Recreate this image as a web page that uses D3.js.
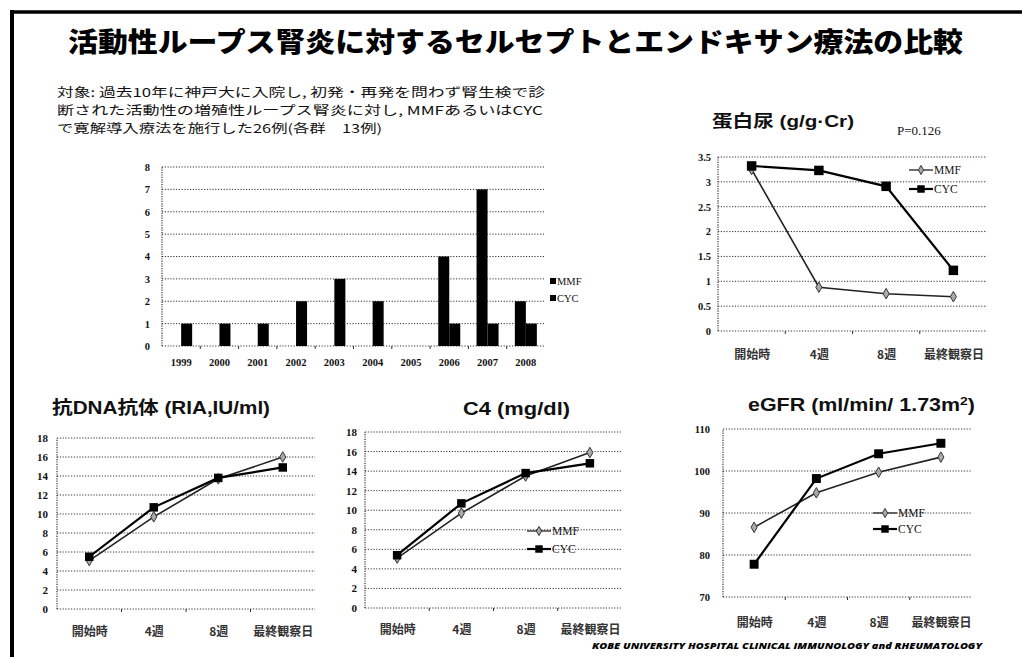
<!DOCTYPE html>
<html>
<head>
<meta charset="utf-8">
<script src="https://cdn.jsdelivr.net/npm/d3@7"></script>
<style>
  html, body { margin: 0; padding: 0; background: #fff; }
  svg { display: block; }
</style>
</head>
<body>
<svg id="slide" width="1022" height="657"></svg>
<script>
// ---- data ----
const years = ["1999", "2000", "2001", "2002", "2003", "2004", "2005", "2006", "2007", "2008"];
const mmfCases = [0, 0, 0, 0, 0, 0, 0, 4, 7, 2];
const cycCases = [1, 1, 1, 2, 3, 2, 0, 1, 1, 1];
const caseTicks = [0, 1, 2, 3, 4, 5, 6, 7, 8];

const timepoints = ["開始時", "4週", "8週", "最終観察日"];

const proteinMMF = [3.25, 0.88, 0.75, 0.69];
const proteinCYC = [3.32, 3.23, 2.91, 1.22];
const proteinTicks = [0, 0.5, 1, 1.5, 2, 2.5, 3, 3.5];

const dnaMMF = [5.1, 9.7, 13.7, 16.0];
const dnaCYC = [5.5, 10.7, 13.8, 14.9];
const dnaTicks = [0, 2, 4, 6, 8, 10, 12, 14, 16, 18];

const c4MMF = [5.1, 9.7, 13.5, 15.9];
const c4CYC = [5.4, 10.7, 13.8, 14.8];
const c4Ticks = [0, 2, 4, 6, 8, 10, 12, 14, 16, 18];

const egfrMMF = [86.6, 94.8, 99.7, 103.3];
const egfrCYC = [77.8, 98.2, 104.1, 106.6];
const egfrTicks = [70, 80, 90, 100, 110];

const seriesNames = ["MMF", "CYC"];

// ---- styles ----
const JP = "'Noto Sans CJK JP', 'Noto Sans', sans-serif";
const HEAD = "'Liberation Sans', 'Noto Sans CJK JP', sans-serif";
const SERIF = "'Liberation Serif', 'DejaVu Serif', serif";
const GRID = "#333";

const svg = d3.select("#slide");

// slide frame (top and left rule)
svg.append("line").attr("x1", 11).attr("x2", 1022).attr("y1", 12).attr("y2", 12)
  .attr("stroke", "#000").attr("stroke-width", 3.5);
svg.append("line").attr("x1", 12).attr("x2", 12).attr("y1", 10).attr("y2", 657)
  .attr("stroke", "#000").attr("stroke-width", 4);

// slide title
svg.append("text")
  .attr("x", 68).attr("y", 52)
  .attr("font-family", JP).attr("font-weight", 900).attr("font-size", 27)
  .attr("textLength", 895).attr("lengthAdjust", "spacingAndGlyphs")
  .text("活動性ループス腎炎に対するセルセプトとエンドキサン療法の比較");

// description paragraph, one text element with a tspan per line
const desc = [
  { t: "対象: 過去10年に神戸大に入院し, 初発・再発を問わず腎生検で診", y: 97, w: 488 },
  { t: "断された活動性の増殖性ループス腎炎に対し, MMFあるいはCYC", y: 115, w: 486 },
  { t: "で寛解導入療法を施行した26例(各群　13例)", y: 133, w: 325 }
];
svg.append("text")
  .attr("font-family", JP).attr("font-size", 12.3).attr("fill", "#111")
  .selectAll("tspan").data(desc).join("tspan")
  .attr("x", 57).attr("y", d => d.y)
  .attr("textLength", d => d.w).attr("lengthAdjust", "spacingAndGlyphs")
  .text(d => d.t);

// footer
svg.append("text")
  .attr("x", 592).attr("y", 649)
  .attr("font-family", "'Open Sans', 'Liberation Sans', sans-serif")
  .attr("font-weight", 800).attr("font-style", "italic").attr("font-size", 9.5)
  .attr("textLength", 390).attr("lengthAdjust", "spacingAndGlyphs")
  .text("KOBE UNIVERSITY HOSPITAL CLINICAL IMMUNOLOGY and RHEUMATOLOGY");

// dotted gridlines and axis frame shared by all panels
function drawGrid(g, y, ticks, x0, x1, labelGap, fmt, fontSize) {
  g.append("g").selectAll("line").data(ticks).join("line")
    .attr("x1", x0).attr("x2", x1)
    .attr("y1", d => y(d)).attr("y2", d => y(d))
    .attr("stroke", GRID).attr("stroke-width", 1).attr("stroke-dasharray", "1.2,1.6");
  g.append("line")
    .attr("x1", x0).attr("x2", x0)
    .attr("y1", y(ticks[0])).attr("y2", y(ticks[ticks.length - 1]))
    .attr("stroke", GRID).attr("stroke-width", 1.2).attr("stroke-dasharray", "1.2,1.2");
  const axis = d3.axisLeft(y).tickValues(ticks).tickSize(0).tickPadding(labelGap).tickFormat(fmt);
  const ag = g.append("g").attr("transform", `translate(${x0},0)`).call(axis);
  ag.select(".domain").remove();
  ag.selectAll("text")
    .attr("font-family", SERIF).attr("font-weight", "bold")
    .attr("font-size", fontSize).attr("fill", "#111");
}

// ---- bar chart: cases per year ----
(function () {
  const g = svg.append("g");
  const x = d3.scaleBand().domain(years).range([162, 545]);
  const y = d3.scaleLinear().domain([0, 8]).range([346, 167]);
  const inner = d3.scaleBand().domain(seriesNames)
    .range([x.bandwidth() / 2 - 11, x.bandwidth() / 2 + 11]);
  drawGrid(g, y, caseTicks, 162, 545, 12, d3.format("d"), 10.5);

  // small marks at category boundaries
  g.append("g").selectAll("line").data(years.slice(1)).join("line")
    .attr("x1", d => x(d)).attr("x2", d => x(d))
    .attr("y1", y(0)).attr("y2", y(0) + 3)
    .attr("stroke", GRID).attr("stroke-width", 1);

  const rows = years.map((yr, i) => ({ yr, MMF: mmfCases[i], CYC: cycCases[i] }));
  g.append("g").selectAll("g").data(rows).join("g")
    .attr("transform", d => `translate(${x(d.yr)},0)`)
    .selectAll("rect")
    .data(d => seriesNames.map(s => ({ s, v: d[s] })).filter(e => e.v > 0))
    .join("rect")
    .attr("x", d => inner(d.s)).attr("width", inner.bandwidth())
    .attr("y", d => y(d.v)).attr("height", d => y(0) - y(d.v))
    .attr("fill", "#000");

  const xa = g.append("g").attr("transform", `translate(0,${y(0)})`)
    .call(d3.axisBottom(x).tickSize(0).tickPadding(13));
  xa.select(".domain").remove();
  xa.selectAll("text").attr("font-family", SERIF).attr("font-weight", "bold")
    .attr("font-size", 10.5).attr("fill", "#111");

  const lg = g.append("g").selectAll("g").data(seriesNames).join("g")
    .attr("transform", (d, i) => `translate(550,${281 + i * 17})`);
  lg.append("rect").attr("x", 0).attr("y", -3).attr("width", 6).attr("height", 6).attr("fill", "#000");
  lg.append("text").attr("x", 7).attr("y", 3.5)
    .attr("font-family", SERIF).attr("font-size", 10.5).attr("fill", "#111").text(d => d);
})();

// ---- line chart panels ----
function lineChart(cfg) {
  const g = svg.append("g");
  const x = d3.scalePoint().domain(timepoints).range([cfg.x0, cfg.x1]).padding(0.5);
  const y = d3.scaleLinear().domain(cfg.domain).range([cfg.y0, cfg.y1]);
  drawGrid(g, y, cfg.ticks, cfg.x0, cfg.x1, cfg.labelGap, cfg.fmt, cfg.tickSize);

  // boundary marks on the baseline
  const step = (cfg.x1 - cfg.x0) / timepoints.length;
  g.append("g").selectAll("line").data(d3.range(1, timepoints.length)).join("line")
    .attr("x1", d => cfg.x0 + d * step).attr("x2", d => cfg.x0 + d * step)
    .attr("y1", cfg.y0).attr("y2", cfg.y0 + 3)
    .attr("stroke", GRID).attr("stroke-width", 1);

  const xa = g.append("g").attr("transform", `translate(0,${cfg.y0})`)
    .call(d3.axisBottom(x).tickSize(0).tickPadding(cfg.xPad));
  xa.select(".domain").remove();
  xa.selectAll("text").attr("font-family", JP).attr("font-weight", "bold")
    .attr("font-size", 12).attr("fill", "#333");

  const line = d3.line().x((d, i) => x(timepoints[i])).y(d => y(d));
  g.append("path").datum(cfg.mmf).attr("d", line)
    .attr("fill", "none").attr("stroke", "#222").attr("stroke-width", 1.6);
  g.append("path").datum(cfg.cyc).attr("d", line)
    .attr("fill", "none").attr("stroke", "#000").attr("stroke-width", 2.2);

  const diamond = d3.symbol().type(d3.symbolDiamond).size(cfg.dia || 32);
  const square = d3.symbol().type(d3.symbolSquare).size(cfg.sq || 72);
  g.append("g").selectAll("path").data(cfg.mmf).join("path")
    .attr("transform", (d, i) => `translate(${x(timepoints[i])},${y(d)})`)
    .attr("d", diamond).attr("fill", "#aaa").attr("stroke", "#333").attr("stroke-width", 1);
  g.append("g").selectAll("path").data(cfg.cyc).join("path")
    .attr("transform", (d, i) => `translate(${x(timepoints[i])},${y(d)})`)
    .attr("d", square).attr("fill", "#000");

  // legend (not every panel carries one)
  if (cfg.legend) {
    const lg = g.append("g").selectAll("g").data(seriesNames).join("g")
      .attr("transform", (d, i) => `translate(${cfg.legend[0]},${cfg.legend[1] + i * cfg.legend[2]})`);
    lg.append("line").attr("x1", 0).attr("x2", 24).attr("y1", 0).attr("y2", 0)
      .attr("stroke", d => d === "MMF" ? "#333" : "#000")
      .attr("stroke-width", d => d === "MMF" ? 1.4 : 2.2);
    lg.append("path").attr("transform", "translate(12,0)")
      .attr("d", d => d === "MMF" ? d3.symbol().type(d3.symbolDiamond).size(24)() : d3.symbol().type(d3.symbolSquare).size(56)())
      .attr("fill", d => d === "MMF" ? "#aaa" : "#000")
      .attr("stroke", d => d === "MMF" ? "#333" : "none");
    lg.append("text").attr("x", 25).attr("y", 4)
      .attr("font-family", SERIF).attr("font-size", 11.5).attr("fill", "#111").text(d => d);
  }

  // panel title
  const t = g.append("text").attr("x", cfg.title.x).attr("y", cfg.title.y)
    .attr("font-family", HEAD).attr("font-weight", "bold").attr("font-size", cfg.title.size)
    .attr("fill", "#111").attr("text-anchor", cfg.title.anchor || "start");
  cfg.title.parts.forEach(p => {
    const ts = t.append("tspan").text(p.t);
    if (p.sup) ts.attr("baseline-shift", "super").attr("font-size", cfg.title.size * 0.65);
  });
  if (cfg.title.len) t.attr("textLength", cfg.title.len).attr("lengthAdjust", "spacingAndGlyphs");
  return g;
}

// proteinuria
lineChart({
  x0: 718, x1: 987, y0: 331, y1: 157, domain: [0, 3.5], ticks: proteinTicks,
  labelGap: 7, fmt: d => String(d), tickSize: 10.5, xPad: 19,
  mmf: proteinMMF, cyc: proteinCYC, sq: 90, legend: [909, 170, 19],
  title: { x: 712, y: 127, size: 17, len: 142, parts: [{ t: "蛋白尿 (g/g·Cr)" }] }
});
svg.append("text").attr("x", 897).attr("y", 135)
  .attr("font-family", SERIF).attr("font-size", 13).attr("fill", "#111").text("P=0.126");

// anti-DNA antibody
lineChart({
  x0: 57, x1: 315, y0: 609, y1: 438, domain: [0, 18], ticks: dnaTicks,
  labelGap: 9, fmt: d3.format("d"), tickSize: 11, xPad: 18,
  mmf: dnaMMF, cyc: dnaCYC, sq: 72, legend: null,
  title: { x: 52, y: 414, size: 18, len: 218, parts: [{ t: "抗DNA抗体 (RIA,IU/ml)" }] }
});

// C4
lineChart({
  x0: 365, x1: 622, y0: 608, y1: 432, domain: [0, 18], ticks: c4Ticks,
  labelGap: 8, fmt: d3.format("d"), tickSize: 11, xPad: 17,
  mmf: c4MMF, cyc: c4CYC, sq: 72, legend: [527, 531, 18],
  title: { x: 463, y: 415, size: 18, len: 107, parts: [{ t: "C4 (mg/dl)" }] }
});

// eGFR
lineChart({
  x0: 723, x1: 972, y0: 597, y1: 429, domain: [70, 110], ticks: egfrTicks,
  labelGap: 13, fmt: d3.format("d"), tickSize: 10.5, xPad: 21,
  mmf: egfrMMF, cyc: egfrCYC, sq: 80, legend: [873, 513, 16],
  title: { x: 748, y: 411, size: 18, len: 227, parts: [{ t: "eGFR (ml/min/ 1.73m" }, { t: "2", sup: true }, { t: ")" }] }
});
</script>
</body>
</html>
